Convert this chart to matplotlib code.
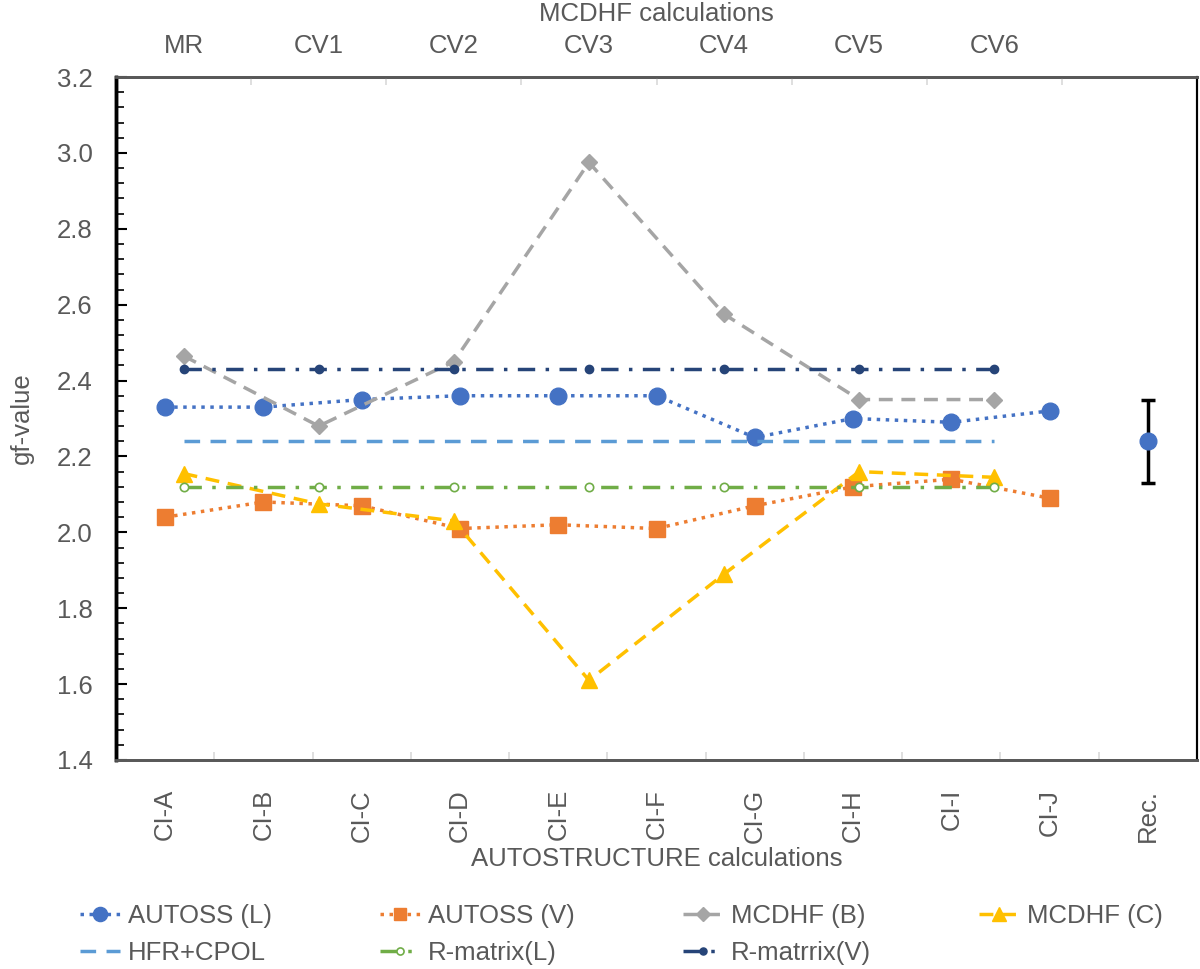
import matplotlib.pyplot as plt
from matplotlib.ticker import MultipleLocator, FixedLocator
import numpy as np

plt.rcParams['font.family'] = ['Liberation Sans', 'DejaVu Sans']

# bottom axis: AUTOSTRUCTURE runs (+ recommended value)
as_labels = ["CI-A", "CI-B", "CI-C", "CI-D", "CI-E", "CI-F", "CI-G", "CI-H", "CI-I", "CI-J", "Rec."]
autoss_L = [2.33, 2.33, 2.35, 2.36, 2.36, 2.36, 2.25, 2.30, 2.29, 2.32]
autoss_V = [2.04, 2.08, 2.07, 2.01, 2.02, 2.01, 2.07, 2.12, 2.14, 2.09]
rec_value = 2.24
rec_err = 0.11

# top axis: MCDHF runs
mc_labels = ["MR", "CV1", "CV2", "CV3", "CV4", "CV5", "CV6", ""]
mcdhf_B = [2.465, 2.28, 2.45, 2.975, 2.575, 2.35, 2.35]
mcdhf_C = [2.155, 2.075, 2.03, 1.61, 1.89, 2.16, 2.145]
hfr_cpol = [2.24] * 7
rmat_L = [2.12] * 7
rmat_V = [2.43] * 7

grey = "#595959"
fs = 18.5

fig = plt.figure(figsize=(12, 9.69), dpi=100)
ax = fig.add_axes([0.0967, 0.2157, 0.9008, 0.7048])
ax2 = ax.twiny()

x_as = np.arange(len(autoss_L))
x_mc = np.arange(len(mcdhf_B))

h_L, = ax.plot(x_as, autoss_L, color="#4472C4", ls=(0, (1, 1.6)), lw=2.5,
               marker="o", ms=12, label="AUTOSS (L)")
h_V, = ax.plot(x_as, autoss_V, color="#ED7D31", ls=(0, (1, 1.6)), lw=2.5,
               marker="s", ms=11, label="AUTOSS (V)")
h_B, = ax2.plot(x_mc, mcdhf_B, color="#A5A5A5", ls=(0, (4, 2.5)), lw=2.5,
                marker="D", ms=8, label="MCDHF (B)")
h_C, = ax2.plot(x_mc, mcdhf_C, color="#FFC000", ls=(0, (4, 2.5)), lw=2.5,
                marker="^", ms=12, label="MCDHF (C)")
h_H, = ax2.plot(x_mc, hfr_cpol, color="#5B9BD5", ls=(0, (4.5, 3)), lw=2.5,
                label="HFR+CPOL")
h_RL, = ax2.plot(x_mc, rmat_L, color="#70AD47", ls=(0, (5, 3, 1, 3)), lw=2.5,
                 marker="o", ms=6, mfc="white", mew=1.2, label="R-matrix(L)")
h_RV, = ax2.plot(x_mc, rmat_V, color="#264478", ls=(0, (5, 3, 1, 3)), lw=2.5,
                 marker="o", ms=6, label="R-matrrix(V)")

ax.errorbar([len(as_labels) - 1], [rec_value], yerr=[rec_err], fmt="o",
            color="#4472C4", ms=12, ecolor="black", elinewidth=2.5,
            capsize=5, capthick=2.5, zorder=5)

# y axis
ax.set_ylim(1.4, 3.2)
ax.yaxis.set_major_locator(MultipleLocator(0.2))
ax.yaxis.set_minor_locator(MultipleLocator(0.04))
ax.yaxis.set_major_formatter(plt.FuncFormatter(lambda v, p: f"{v:.1f}"))
ax.tick_params(axis="y", which="both", direction="in", color="black",
               labelsize=fs, labelcolor=grey, pad=17)
ax.tick_params(axis="y", which="major", length=8, width=1.5)
ax.tick_params(axis="y", which="minor", length=6, width=1.2)
ax.set_ylabel("gf-value", fontsize=fs, color=grey, labelpad=16)

# bottom categories
ax.set_xlim(-0.5, len(as_labels) - 0.5)
ax.set_xticks(np.arange(len(as_labels)))
ax.set_xticklabels(as_labels, rotation=90)
ax.xaxis.set_minor_locator(FixedLocator(np.arange(0.5, len(as_labels) - 0.5, 1)))
ax.tick_params(axis="x", which="major", length=0, labelsize=fs,
               labelcolor=grey, pad=21)
ax.tick_params(axis="x", which="minor", direction="in", length=6,
               color="#D9D9D9", width=1.2)
ax.set_xlabel("AUTOSTRUCTURE calculations", fontsize=fs, color=grey, labelpad=3)

# top categories
ax2.set_xlim(-0.5, len(mc_labels) - 0.5)
ax2.set_xticks(np.arange(len(mc_labels)))
ax2.set_xticklabels(mc_labels)
ax2.xaxis.set_minor_locator(FixedLocator(np.arange(0.5, len(mc_labels) - 0.5, 1)))
ax2.tick_params(axis="x", which="major", length=0, labelsize=fs,
                labelcolor=grey, pad=14)
ax2.tick_params(axis="x", which="minor", direction="in", length=6,
                color="#D9D9D9", width=1.2)
ax2.set_xlabel("MCDHF calculations", fontsize=fs, color=grey, labelpad=9)

for a in (ax, ax2):
    a.spines["left"].set_linewidth(2.5)
    a.spines["left"].set_color("black")
    a.spines["bottom"].set_color("#595959")
    a.spines["bottom"].set_linewidth(2)
    a.spines["top"].set_color("#595959")
    a.spines["top"].set_linewidth(2)
    a.spines["right"].set_color("black")
    a.spines["right"].set_linewidth(1.5)

# column-major order so rows read L, V, B, C / HFR, RL, RV
handles = [h_L, h_H, h_V, h_RL, h_B, h_RV, h_C]
fig.legend(handles=handles, labels=[h.get_label() for h in handles],
           ncol=4, loc="upper left", bbox_to_anchor=(0.0667, 0.067),
           frameon=False, fontsize=fs, labelcolor=grey, handlelength=1.56,
           handletextpad=0.31, columnspacing=4.2, labelspacing=0.5,
           borderpad=0, borderaxespad=0, markerscale=0.85)

fig.savefig("out.png", dpi=100)
